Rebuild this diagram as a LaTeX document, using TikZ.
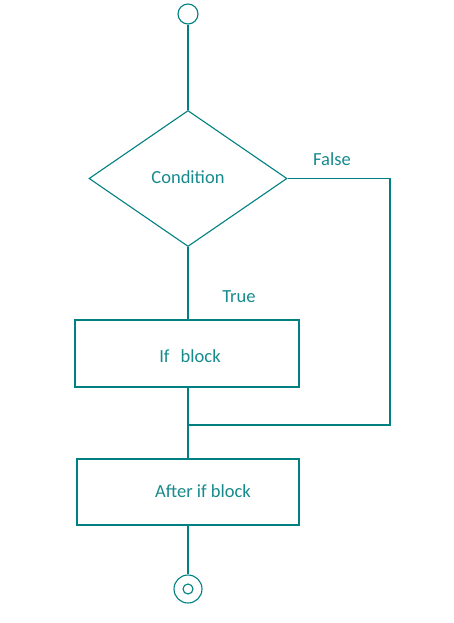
\documentclass[tikz,border=0pt]{standalone}
\usepackage{fontspec}
\setmainfont{Carlito}
\usetikzlibrary{shapes.geometric}
\definecolor{lc}{RGB}{0,128,128}
\definecolor{tc}{RGB}{22,138,140}
\begin{document}
\begin{tikzpicture}[x=1pt,y=-1pt,
  every node/.style={font=\fontsize{18.5}{22}\selectfont, text=tc},
  ln/.style={draw=lc, line width=1.1pt},
  boxnode/.style={ln, rectangle, inner sep=0pt},
  lbl/.style={inner sep=0pt}]
\useasboundingbox (0,0) rectangle (454,623);
\node[ln, circle, minimum size=20pt, inner sep=0pt] (start) at (188,14) {};
\node[ln, diamond, minimum width=198pt, minimum height=136pt, inner sep=0pt] (cond) at (188,178.5) {};
\node[lbl] (condt) at (188,177) {Condition};
\node[boxnode, minimum width=224pt, minimum height=67pt] (ifb) at (187,353.5) {};
\node[lbl] (ift) at (190,356) {If\hspace{0.6em}block};
\node[boxnode, minimum width=222pt, minimum height=66pt] (after) at (188,492) {};
\node[lbl] (aftert) at (203,491) {After if block};
\node[ln, circle, minimum size=28pt, inner sep=0pt] (stop) at (188,589) {};
\node[ln, circle, minimum size=10pt, inner sep=0pt] (stopin) at (188,589) {};
\node[lbl] (false) at (332,159) {False};
\node[lbl] (true) at (239,297) {True};
\coordinate (fr) at (390,178.5);
\coordinate (fb) at (390,425);
\coordinate (jn) at (188,425);
\draw[ln] (start.south) -- (cond.north);
\draw[ln] (cond.south) -- (ifb.north -| cond.south);
\draw[ln] (cond.east) -- (fr) -- (fb) -- (jn);
\draw[ln] (ifb.south -| jn) -- (after.north -| jn);
\draw[ln] (after.south -| stop.north) -- (stop.north);
\end{tikzpicture}
\end{document}
